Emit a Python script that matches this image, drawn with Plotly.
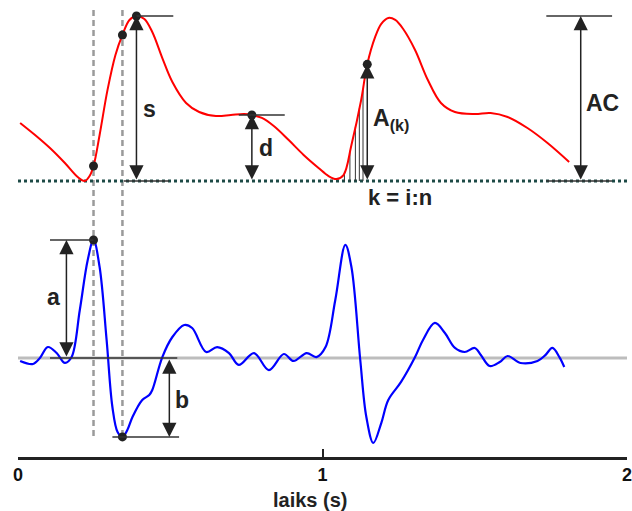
import plotly.graph_objects as go
import numpy as np

# ---------------- data (time in seconds, amplitudes normalised) ----------------
ppg_t = [0.007, 0.056, 0.105, 0.154, 0.196, 0.219, 0.235, 0.248, 0.268, 0.294,
         0.320, 0.343, 0.366, 0.389, 0.415, 0.441, 0.474, 0.507, 0.552, 0.595,
         0.650, 0.699, 0.742, 0.768, 0.801, 0.840, 0.889, 0.938, 0.987, 1.020,
         1.046, 1.069, 1.095, 1.127, 1.147, 1.173, 1.193, 1.216, 1.239, 1.265,
         1.304, 1.346, 1.389, 1.435, 1.500, 1.552, 1.608, 1.673, 1.739, 1.810]
ppg_v = [0.352, 0.279, 0.200, 0.109, 0.024, 0.000, 0.030, 0.091, 0.279, 0.552,
         0.764, 0.885, 0.976, 1.000, 0.982, 0.903, 0.745, 0.600, 0.473, 0.418,
         0.394, 0.400, 0.406, 0.400, 0.382, 0.333, 0.248, 0.158, 0.079, 0.030,
         0.012, 0.036, 0.218, 0.491, 0.707, 0.873, 0.952, 0.988, 0.976, 0.921,
         0.794, 0.612, 0.473, 0.418, 0.406, 0.412, 0.388, 0.321, 0.230, 0.115]

der_t = [0.007, 0.049, 0.072, 0.098, 0.127, 0.154, 0.176, 0.203, 0.229, 0.248,
         0.268, 0.291, 0.310, 0.327, 0.343, 0.359, 0.376, 0.408, 0.431, 0.441,
         0.474, 0.507, 0.546, 0.572, 0.618, 0.654, 0.693, 0.725, 0.775, 0.824,
         0.873, 0.905, 0.948, 0.980, 1.010, 1.042, 1.075, 1.095, 1.124, 1.144,
         1.167, 1.193, 1.216, 1.258, 1.304, 1.330, 1.369, 1.402, 1.435, 1.467,
         1.500, 1.520, 1.549, 1.582, 1.608, 1.650, 1.706, 1.732, 1.755, 1.778,
         1.794]
der_v = [-0.025, -0.051, 0.000, 0.093, 0.042, -0.042, 0.008, 0.407, 0.831, 1.000,
         0.771, 0.153, -0.415, -0.627, -0.669, -0.610, -0.500, -0.356, -0.314, -0.271,
         0.008, 0.178, 0.280, 0.254, 0.051, 0.093, 0.042, -0.059, 0.042, -0.102,
         0.034, -0.025, 0.042, 0.008, 0.093, 0.492, 0.958, 0.771, -0.017, -0.500,
         -0.720, -0.551, -0.356, -0.203, 0.008, 0.153, 0.297, 0.212, 0.085, 0.051,
         0.085, 0.025, -0.068, -0.034, 0.017, -0.042, -0.025, 0.025, 0.085, 0.008,
         -0.076]

ppg_dot_t = [0.248, 0.343, 0.389, 0.768, 1.147]
ppg_dot_v = [0.091, 0.885, 1.000, 0.400, 0.707]
der_dot_t = [0.248, 0.343]
der_dot_v = [1.000, -0.669]

hatch_t = [1.072, 1.090, 1.108, 1.121, 1.133]

tick_vals = [0, 1, 2]
tick_text = ["0", "1", "2"]

FONT = "Liberation Sans, Arial, sans-serif"
DARK = "#222222"

fig = go.Figure()

fig.add_trace(go.Scatter(x=ppg_t, y=ppg_v, mode="lines", yaxis="y",
                         line=dict(color="#ff0000", width=2, shape="spline"),
                         hoverinfo="skip", showlegend=False))
fig.add_trace(go.Scatter(x=der_t, y=der_v, mode="lines", yaxis="y2",
                         line=dict(color="#0000ff", width=2.2, shape="spline"),
                         hoverinfo="skip", showlegend=False))
fig.add_trace(go.Scatter(x=ppg_dot_t, y=ppg_dot_v, mode="markers", yaxis="y",
                         marker=dict(color=DARK, size=9),
                         hoverinfo="skip", showlegend=False))
fig.add_trace(go.Scatter(x=der_dot_t, y=der_dot_v, mode="markers", yaxis="y2",
                         marker=dict(color=DARK, size=9),
                         hoverinfo="skip", showlegend=False))

shapes = []
# baselines
shapes.append(dict(type="line", xref="x", yref="y2", x0=0, x1=2.01, y0=0, y1=0,
                   line=dict(color="#bdbdbd", width=3), layer="below"))
shapes.append(dict(type="line", xref="x", yref="y", x0=0, x1=2.01, y0=0, y1=0,
                   line=dict(color="#1d4a46", width=3, dash="3px,3px"), layer="below"))
# vertical dashed markers
for t in [0.248, 0.343]:
    shapes.append(dict(type="line", xref="x", yref="paper", x0=t, x1=t, y0=0.046, y1=0.985,
                       line=dict(color="#9a9a9a", width=2.5, dash="6px,4px"), layer="below"))
# hatch lines under A(k)
for t in hatch_t:
    h = float(np.interp(t, ppg_t, ppg_v))
    shapes.append(dict(type="line", xref="x", yref="y", x0=t, x1=t, y0=0, y1=h,
                       line=dict(color="#333333", width=1), layer="below"))
# horizontal reference lines
hl = [("y", 0.389, 0.510, 1.0), ("y", 0.725, 0.876, 0.4), ("y", 0.348, 0.496, 0.0),
      ("y", 1.735, 1.951, 1.0), ("y", 1.735, 1.951, 0.0),
      ("y2", 0.105, 0.248, 1.0), ("y2", 0.105, 0.523, 0.0), ("y2", 0.310, 0.529, -0.669)]
for ref, a, b, yv in hl:
    shapes.append(dict(type="line", xref="x", yref=ref, x0=a, x1=b, y0=yv, y1=yv,
                       line=dict(color="#333333", width=1.5)))

annotations = []


def arrow(x, y0, y1, ref):
    return dict(x=x, y=y1, ax=x, ay=y0, xref="x", yref=ref, axref="x", ayref=ref,
                text="", showarrow=True, arrowhead=2, arrowsize=1.9, arrowwidth=1.5,
                arrowcolor=DARK, arrowside="end+start", startarrowhead=2,
                startarrowsize=1.9, standoff=0, startstandoff=0)


annotations += [arrow(0.389, 0, 1.0, "y"), arrow(0.768, 0, 0.4, "y"),
                arrow(1.147, 0, 0.707, "y"), arrow(1.848, 0, 1.0, "y"),
                arrow(0.159, 0, 1.0, "y2"), arrow(0.497, 0, -0.669, "y2")]


def label(txt, x, y, ref, anchor="center", size=23):
    return dict(text=txt, x=x, y=y, xref="x", yref=ref, showarrow=False,
                xanchor=anchor, yanchor="middle",
                font=dict(family=FONT, size=size, color=DARK, weight="bold"))


annotations += [label("s", 0.431, 0.436, "y"), label("d", 0.814, 0.20, "y"),
                label("AC", 1.918, 0.47, "y"),
                label("A<sub>(k)</sub>", 1.160, 0.37, "y", anchor="left"),
                label("k = i:n", 1.144, -0.103, "y", anchor="left", size=22),
                label("a", 0.118, 0.517, "y2"), label("b", 0.538, -0.356, "y2")]
annotations.append(dict(text="laiks (s)", x=0.479, y=-0.094, xref="paper", yref="paper",
                        showarrow=False, xanchor="center", yanchor="middle",
                        font=dict(family=FONT, size=20, color=DARK, weight="bold")))

fig.update_layout(
    width=632, height=511,
    margin=dict(l=18, r=2, t=0, b=54),
    paper_bgcolor="white", plot_bgcolor="white",
    showlegend=False,
    shapes=shapes, annotations=annotations,
    xaxis=dict(range=[0, 2], tickvals=tick_vals, ticktext=tick_text,
               showgrid=False, zeroline=False, showline=True, linecolor=DARK,
               linewidth=2.5, ticks="inside", ticklen=8, tickwidth=2, tickcolor=DARK,
               ticklabeloverflow="allow",
               tickfont=dict(family=FONT, size=18, color="#111111", weight="bold")),
    yaxis=dict(range=[-1.673, 1.097], visible=False, fixedrange=True),
    yaxis2=dict(range=[-0.839, 3.034], visible=False, overlaying="y", fixedrange=True),
)

fig.write_html("out.html", config={"displayModeBar": False},
               post_script="document.body.style.margin='0';document.body.style.padding='0';")
